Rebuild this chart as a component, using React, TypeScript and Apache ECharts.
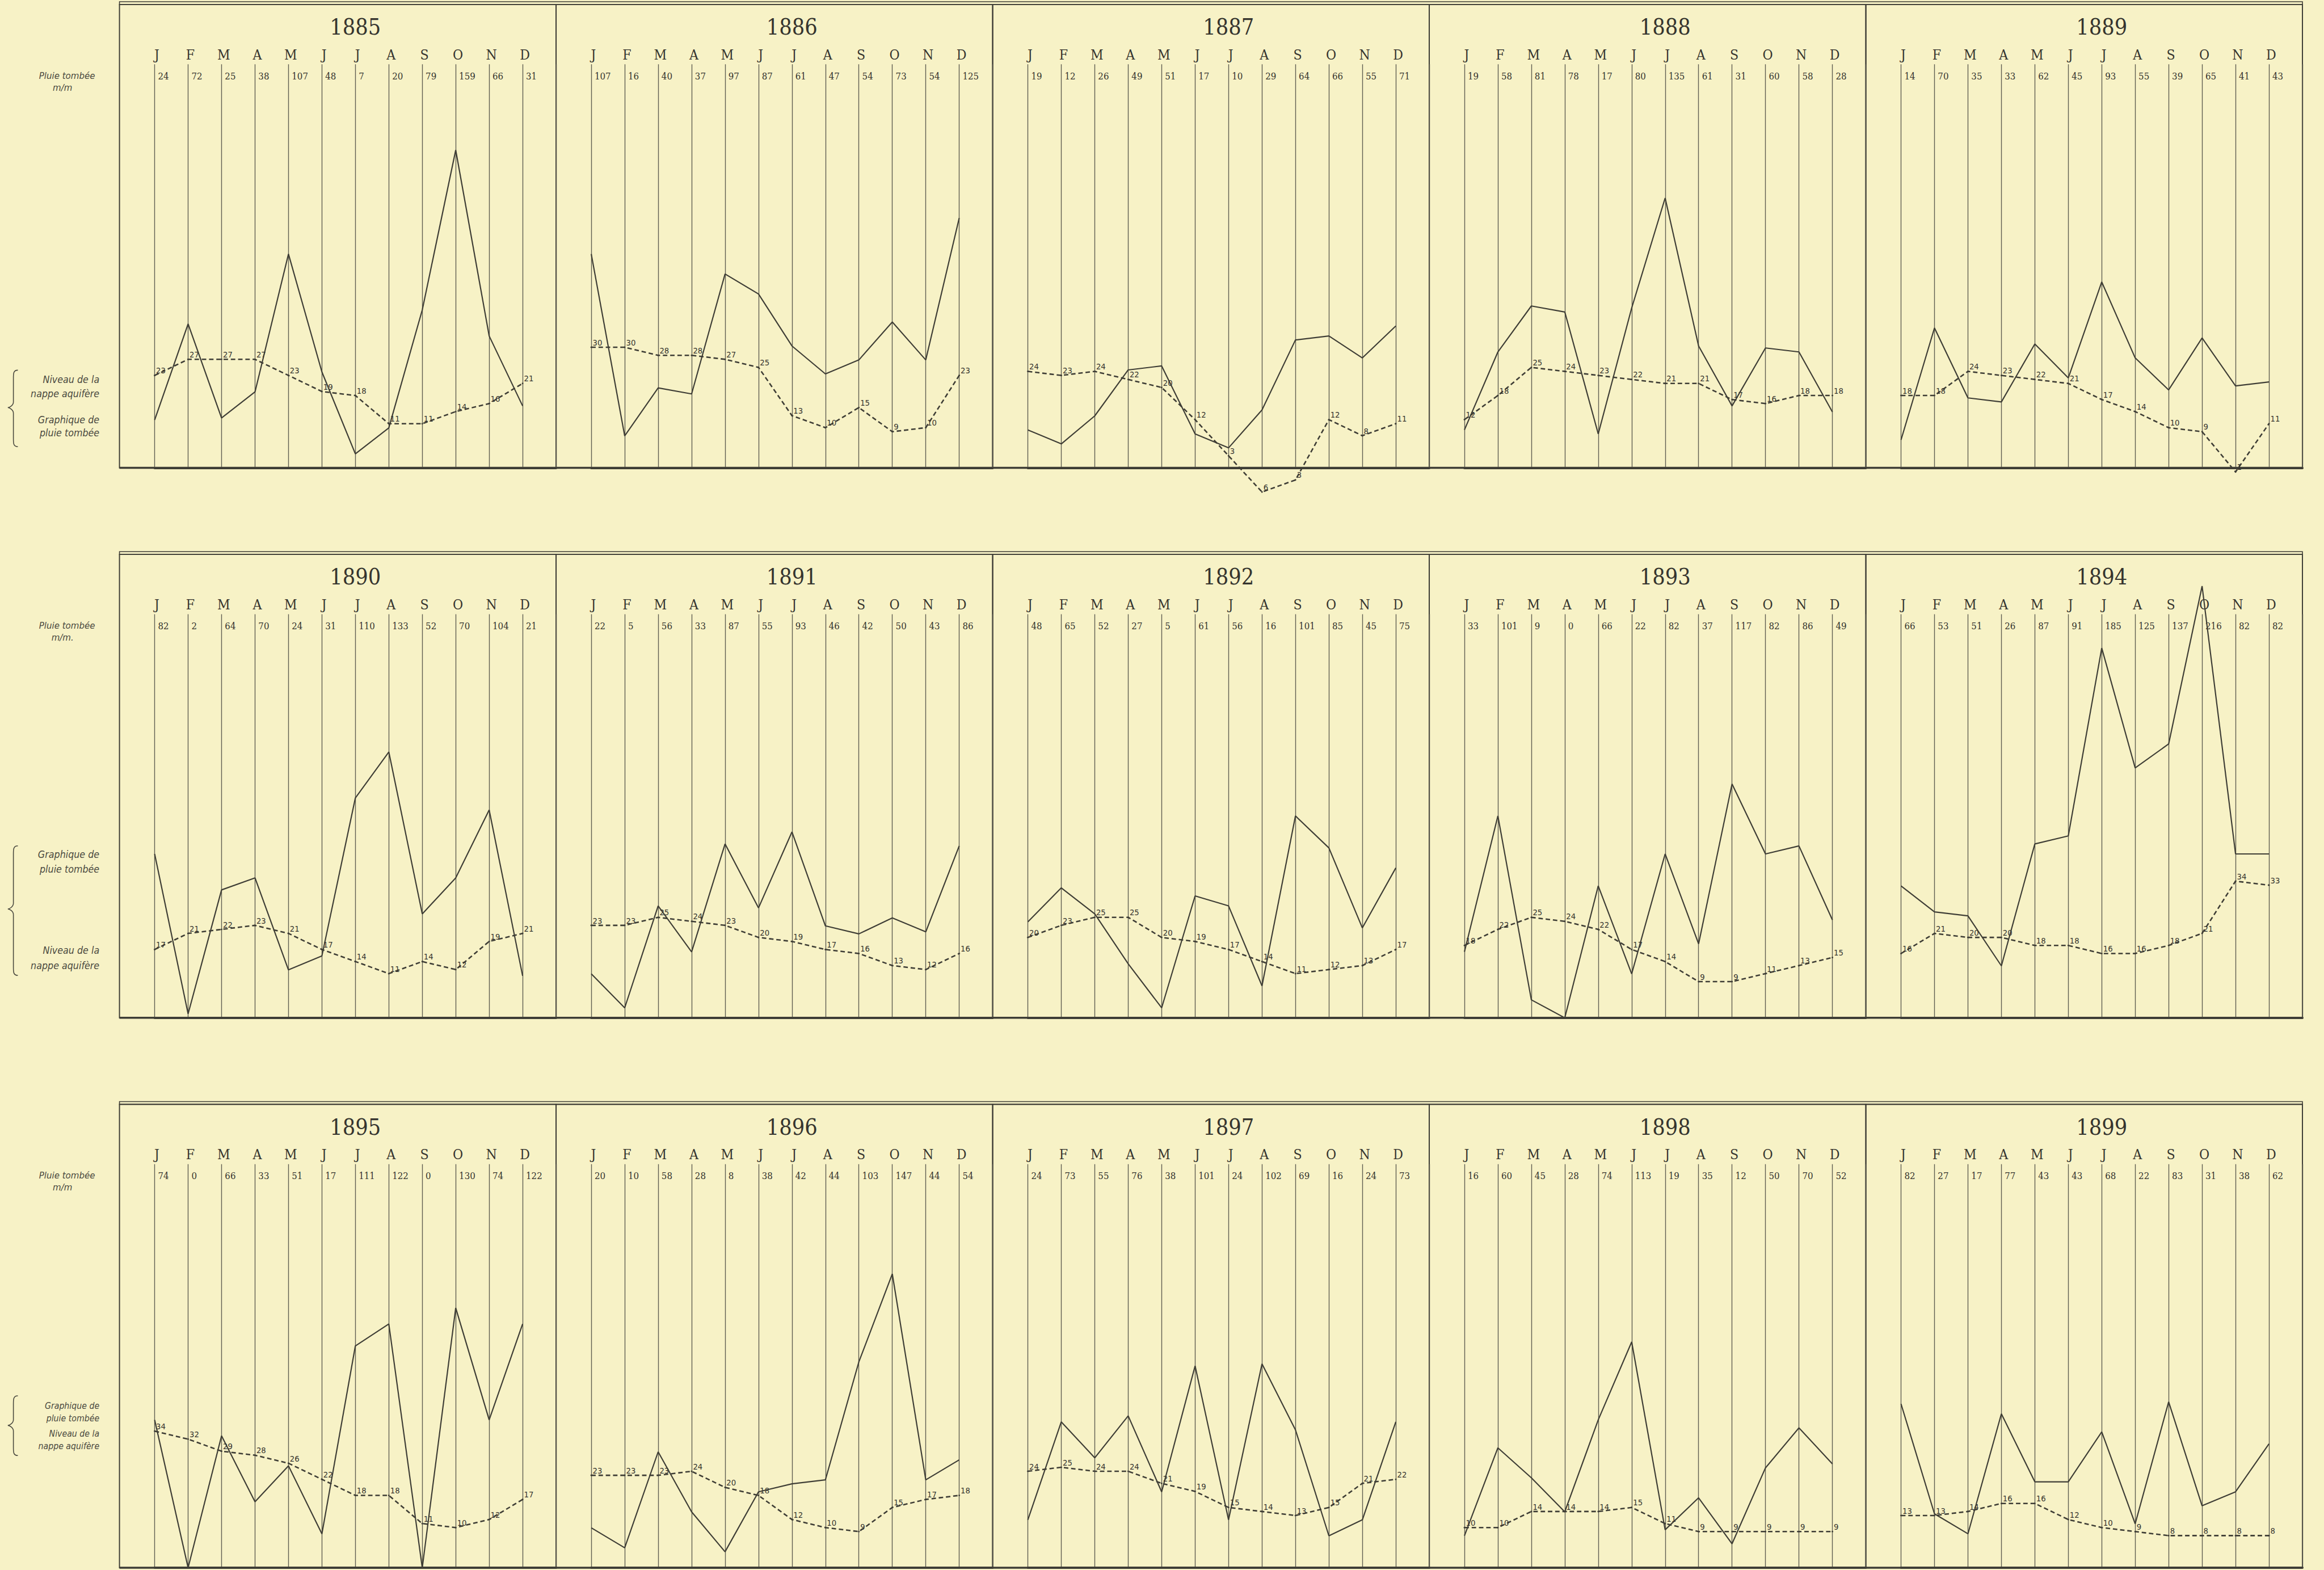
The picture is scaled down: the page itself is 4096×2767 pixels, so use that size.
import React, { useEffect, useRef } from "react";
import * as echarts from "echarts";

// ---------- DATA ----------
const years = ["1885", "1886", "1887", "1888", "1889", "1890", "1891", "1892", "1893", "1894", "1895", "1896", "1897", "1898", "1899"];
const monthLetters = ["J", "F", "M", "A", "M", "J", "J", "A", "S", "O", "N", "D"];

// Pluie tombée (m/m)
const rain1885 = [24, 72, 25, 38, 107, 48, 7, 20, 79, 159, 66, 31];
const rain1886 = [107, 16, 40, 37, 97, 87, 61, 47, 54, 73, 54, 125];
const rain1887 = [19, 12, 26, 49, 51, 17, 10, 29, 64, 66, 55, 71];
const rain1888 = [19, 58, 81, 78, 17, 80, 135, 61, 31, 60, 58, 28];
const rain1889 = [14, 70, 35, 33, 62, 45, 93, 55, 39, 65, 41, 43];
const rain1890 = [82, 2, 64, 70, 24, 31, 110, 133, 52, 70, 104, 21];
const rain1891 = [22, 5, 56, 33, 87, 55, 93, 46, 42, 50, 43, 86];
const rain1892 = [48, 65, 52, 27, 5, 61, 56, 16, 101, 85, 45, 75];
const rain1893 = [33, 101, 9, 0, 66, 22, 82, 37, 117, 82, 86, 49];
const rain1894 = [66, 53, 51, 26, 87, 91, 185, 125, 137, 216, 82, 82];
const rain1895 = [74, 0, 66, 33, 51, 17, 111, 122, 0, 130, 74, 122];
const rain1896 = [20, 10, 58, 28, 8, 38, 42, 44, 103, 147, 44, 54];
const rain1897 = [24, 73, 55, 76, 38, 101, 24, 102, 69, 16, 24, 73];
const rain1898 = [16, 60, 45, 28, 74, 113, 19, 35, 12, 50, 70, 52];
const rain1899 = [82, 27, 17, 77, 43, 43, 68, 22, 83, 31, 38, 62];

// Niveau de la nappe aquifère
const level1885 = [23, 27, 27, 27, 23, 19, 18, 11, 11, 14, 16, 21];
const level1886 = [30, 30, 28, 28, 27, 25, 13, 10, 15, 9, 10, 23];
const level1887 = [24, 23, 24, 22, 20, 12, 3, -6, -3, 12, 8, 11];
const level1888 = [12, 18, 25, 24, 23, 22, 21, 21, 17, 16, 18, 18];
const level1889 = [18, 18, 24, 23, 22, 21, 17, 14, 10, 9, -1, 11];
const level1890 = [17, 21, 22, 23, 21, 17, 14, 11, 14, 12, 19, 21];
const level1891 = [23, 23, 25, 24, 23, 20, 19, 17, 16, 13, 12, 16];
const level1892 = [20, 23, 25, 25, 20, 19, 17, 14, 11, 12, 13, 17];
const level1893 = [18, 22, 25, 24, 22, 17, 14, 9, 9, 11, 13, 15];
const level1894 = [16, 21, 20, 20, 18, 18, 16, 16, 18, 21, 34, 33];
const level1895 = [34, 32, 29, 28, 26, 22, 18, 18, 11, 10, 12, 17];
const level1896 = [23, 23, 23, 24, 20, 18, 12, 10, 9, 15, 17, 18];
const level1897 = [24, 25, 24, 24, 21, 19, 15, 14, 13, 15, 21, 22];
const level1898 = [10, 10, 14, 14, 14, 15, 11, 9, 9, 9, 9, 9];
const level1899 = [13, 13, 14, 16, 16, 12, 10, 9, 8, 8, 8, 8];

const rainByYear = [rain1885, rain1886, rain1887, rain1888, rain1889, rain1890, rain1891, rain1892, rain1893, rain1894, rain1895, rain1896, rain1897, rain1898, rain1899];
const levelByYear = [level1885, level1886, level1887, level1888, level1889, level1890, level1891, level1892, level1893, level1894, level1895, level1896, level1897, level1898, level1899];

const pluieLabel = "Pluie tombée";
const unitLabels = ["m/m", "m/m.", "m/m"];
const sideLabels = [
  ["Niveau de la", "nappe aquifère", "Graphique de", "pluie tombée"],
  ["Graphique de", "pluie tombée", "Niveau de la", "nappe aquifère"],
  ["Graphique de", "pluie tombée", "Niveau de la", "nappe aquifère"],
];

// ---------- LAYOUT (reference pixels, scaled by S) ----------
const S = 0.984;
const X0 = 214;
const PANEL_W = 782;
const ROW_TOP = [8, 993, 1978];
const ROW_H = 830;
const MARGIN_L = 63;
const HEADER_H = 107;
const RAIN_PX = 3.58;
const LEVEL_PX = 7.2;
const sideY = [
  [680, 705, 752, 775],
  [1530, 1557, 1702, 1730],
  [2518, 2540, 2568, 2590],
];
const sideFont = [18, 18, 16];
const pluieY = [135, 1120, 2105];
const braces = [
  { y0: 663, y1: 800, ym: 730 },
  { y0: 1515, y1: 1747, ym: 1628 },
  { y0: 2500, y1: 2607, ym: 2553 },
];

const C = {
  line: "#3e3d35",
  grid: "#5d5c50",
  text: "#35342e",
  soft: "#4a493f",
  bg: "#f7f2c6",
};
const SERIF = '"DejaVu Serif Condensed", "Liberation Serif", serif';
const SANS = '"DejaVu Sans Condensed", "DejaVu Sans", sans-serif';

const s = (v: number) => v * S;

function bracePath(b: { y0: number; y1: number; ym: number }) {
  const xe = 32, xs = 24, xt = 14;
  const p = (x: number, y: number) => `${s(x).toFixed(2)},${s(y).toFixed(2)}`;
  return (
    `M${p(xe, b.y0)} C${p(xs, b.y0)} ${p(xs, b.y0 + 6)} ${p(xs, b.y0 + 14)} ` +
    `L${p(xs, b.ym - 10)} C${p(xs, b.ym - 4)} ${p(xt + 3, b.ym)} ${p(xt, b.ym)} ` +
    `C${p(xt + 3, b.ym)} ${p(xs, b.ym + 4)} ${p(xs, b.ym + 10)} ` +
    `L${p(xs, b.y1 - 14)} C${p(xs, b.y1 - 6)} ${p(xs, b.y1)} ${p(xe, b.y1)}`
  );
}

function registerBraces() {
  braces.forEach((b, i) => {
    echarts.graphic.registerShape("brace" + i, echarts.graphic.extendPath(bracePath(b), {}));
  });
}

function buildOption() {
  const grid: any[] = [];
  const xAxis: any[] = [];
  const yAxis: any[] = [];
  const series: any[] = [];
  const graphic: any[] = [];

  years.forEach((yr, i) => {
    const r = Math.floor(i / 5);
    const c = i % 5;
    const px = X0 + c * PANEL_W;
    const py = ROW_TOP[r];
    const rain = rainByYear[i];
    const level = levelByYear[i];
    const plotH = ROW_H - HEADER_H;

    grid.push({
      left: s(px + MARGIN_L),
      top: s(py + HEADER_H),
      width: s(PANEL_W - MARGIN_L),
      height: s(plotH),
      outerBoundsMode: "none",
      containLabel: false,
    });

    // months axis with the vertical rules
    xAxis.push({
      type: "value",
      gridIndex: i,
      min: 0,
      max: 12,
      interval: 1,
      position: "top",
      axisLine: { show: true, lineStyle: { color: C.line, width: s(4) } },
      axisTick: { show: false },
      splitLine: { show: true, lineStyle: { color: C.grid, width: s(1.4) } },
      showMinLabel: true,
      showMaxLabel: true,
      axisLabel: {
        show: true,
        margin: s(17),
        fontFamily: SERIF,
        fontSize: s(25),
        color: C.text,
        align: "center",
        verticalAlign: "middle",
        padding: [0, 0, 0, s(8)],
        formatter: (v: number) => (v >= 0 && v < 12 ? monthLetters[v] : ""),
      },
    });
    // rain values row inside the cells
    xAxis.push({
      type: "value",
      gridIndex: i,
      min: 0,
      max: 12,
      interval: 1,
      position: "top",
      axisLine: { show: false },
      axisTick: { show: false },
      splitLine: { show: false },
      showMinLabel: true,
      showMaxLabel: true,
      axisLabel: {
        show: true,
        inside: true,
        margin: s(21),
        fontFamily: SERIF,
        fontSize: s(17),
        color: C.text,
        align: "left",
        verticalAlign: "middle",
        padding: [0, 0, 0, s(6)],
        formatter: (v: number) => (v >= 0 && v < 12 ? String(rain[v]) : ""),
      },
    });

    yAxis.push({
      type: "value",
      gridIndex: i,
      min: 0,
      max: plotH / RAIN_PX,
      show: false,
      splitLine: { show: false },
    });
    yAxis.push({
      type: "value",
      gridIndex: i,
      min: 0,
      max: plotH / LEVEL_PX,
      show: false,
      splitLine: { show: false },
    });

    series.push({
      type: "line",
      name: "Pluie " + yr,
      xAxisIndex: 2 * i,
      yAxisIndex: 2 * i,
      data: rain.map((v, k) => [k, v]),
      symbol: "none",
      showSymbol: false,
      clip: false,
      silent: true,
      z: 3,
      lineStyle: { color: C.line, width: s(2.2) },
    });
    series.push({
      type: "line",
      name: "Nappe " + yr,
      xAxisIndex: 2 * i,
      yAxisIndex: 2 * i + 1,
      data: level.map((v, k) => [k, v]),
      symbol: "circle",
      symbolSize: s(3),
      showSymbol: true,
      clip: false,
      silent: true,
      z: 4,
      itemStyle: { color: C.line },
      lineStyle: { color: C.line, width: s(2.6), type: [s(8), s(5)] },
      label: {
        show: true,
        position: "right",
        distance: s(1),
        offset: [0, s(-9)],
        fontFamily: SANS,
        fontSize: s(15),
        color: C.text,
        formatter: (p: any) => String(Math.abs(p.value[1])),
      },
    });

    // panel frame
    graphic.push({
      type: "rect",
      silent: true,
      shape: { x: s(px), y: s(py), width: s(PANEL_W), height: s(ROW_H) },
      style: { fill: "none", stroke: C.line, lineWidth: s(2) },
    });
    // year title
    graphic.push({
      type: "text",
      silent: true,
      x: s(px + MARGIN_L + (PANEL_W - MARGIN_L) / 2),
      y: s(py + 40),
      style: {
        text: yr,
        fill: C.text,
        font: `${s(40)}px ${SERIF}`,
        textAlign: "center",
        textVerticalAlign: "middle",
        align: "center",
        verticalAlign: "middle",
      },
    });
  });

  ROW_TOP.forEach((py, r) => {
    // double top rule
    graphic.push({
      type: "rect",
      silent: true,
      shape: { x: s(X0), y: s(py - 5), width: s(5 * PANEL_W), height: s(5) },
      style: { fill: "none", stroke: C.line, lineWidth: s(1.6) },
    });
    // heavy bottom rule
    graphic.push({
      type: "line",
      silent: true,
      shape: { x1: s(X0), y1: s(py + ROW_H), x2: s(X0 + 5 * PANEL_W), y2: s(py + ROW_H) },
      style: { stroke: C.line, lineWidth: s(3.5) },
    });
    // "Pluie tombée m/m"
    graphic.push({
      type: "text",
      silent: true,
      x: s(120),
      y: s(pluieY[r]),
      style: {
        text: pluieLabel,
        fill: C.soft,
        font: `italic ${s(17)}px ${SANS}`,
        textAlign: "center",
        textVerticalAlign: "middle",
        align: "center",
        verticalAlign: "middle",
      },
    });
    graphic.push({
      type: "text",
      silent: true,
      x: s(112),
      y: s(pluieY[r] + 21),
      style: {
        text: unitLabels[r],
        fill: C.soft,
        font: `italic ${s(17)}px ${SANS}`,
        textAlign: "center",
        textVerticalAlign: "middle",
        align: "center",
        verticalAlign: "middle",
      },
    });
    // brace
    graphic.push({
      type: "brace" + r,
      silent: true,
      x: 0,
      y: 0,
      style: { fill: "none", stroke: C.soft, lineWidth: s(1.6) },
    });
    sideLabels[r].forEach((t, k) => {
      graphic.push({
        type: "text",
        silent: true,
        x: s(178),
        y: s(sideY[r][k]),
        style: {
          text: t,
          fill: C.soft,
          font: `italic ${s(sideFont[r])}px ${SANS}`,
          textAlign: "right",
          textVerticalAlign: "middle",
          align: "right",
          verticalAlign: "middle",
        },
      });
    });
  });

  return {
    animation: false,
    backgroundColor: C.bg,
    textStyle: { fontFamily: SERIF },
    grid,
    xAxis,
    yAxis,
    series,
    graphic: { elements: graphic },
  };
}

export default function App() {
  const ref = useRef<HTMLDivElement>(null);
  useEffect(() => {
    if (!ref.current) return;
    registerBraces();
    const chart = echarts.init(ref.current, null, { renderer: "svg" });
    chart.setOption(buildOption() as any);
    return () => {
      chart.dispose();
    };
  }, []);
  return (
    <div
      ref={ref}
      style={{ position: "fixed", left: 0, top: 0, width: 4096, height: 2767, background: C.bg }}
    />
  );
}
